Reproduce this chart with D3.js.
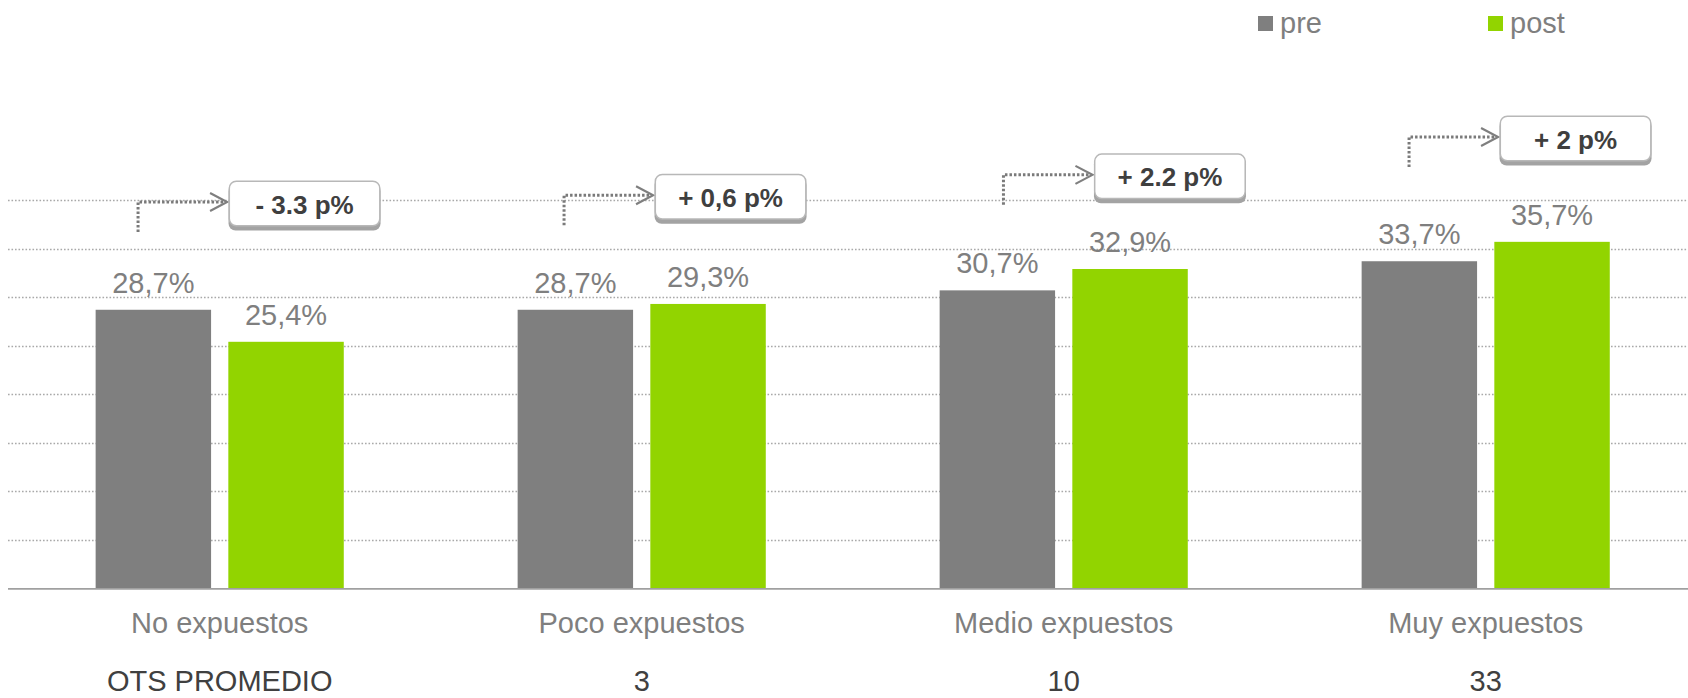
<!DOCTYPE html>
<html>
<head>
<meta charset="utf-8">
<script src="https://cdn.jsdelivr.net/npm/d3@7"></script>
<style>
  html, body { margin: 0; padding: 0; background: #ffffff; }
  svg { display: block; font-family: "Liberation Sans", Arial, sans-serif; }
</style>
</head>
<body>
<svg id="chart" width="1688" height="698"></svg>
<script>
// ---------- DATA ----------
const categories = ["No expuestos", "Poco expuestos", "Medio expuestos", "Muy expuestos"];
const otsLabels = ["OTS PROMEDIO", "3", "10", "33"];
const series = ["pre", "post"];
const preValues = [28.7, 28.7, 30.7, 33.7];
const postValues = [25.4, 29.3, 32.9, 35.7];
const deltaLabels = ["- 3.3 p%", "+ 0,6 p%", "+ 2.2 p%", "+ 2 p%"];
const yTicks = [5, 10, 15, 20, 25, 30, 35, 40];

// ---------- LAYOUT / STYLE ----------
const W = 1688, H = 698;
const colors = { pre: "#7f7f7f", post: "#92d400" };
const calloutDx = [-15.3, -11.3, 6.1, -10.3];      // offset of connector from pre-bar centre
const calloutLevel = [39.8, 40.5, 42.6, 46.5];     // connector height (in axis units)

const svg = d3.select("#chart");

const y = d3.scaleLinear().domain([0, 40]).range([588.3, 200.1]);
const x0 = d3.scaleBand().domain(categories).range([8.7, 1696.7])
  .paddingInner(0.412).paddingOuter(0.206);
const x1 = d3.scaleBand().domain(series).range([0, x0.bandwidth()]).paddingInner(0.13);

const rows = categories.map((c, i) => ({ cat: c, pre: preValues[i], post: postValues[i], ots: otsLabels[i], delta: deltaLabels[i], i }));

// gridlines
svg.append("g").selectAll("line").data(yTicks).join("line")
  .attr("x1", 8).attr("x2", W)
  .attr("y1", d => Math.round(y(d)) + 0.5).attr("y2", d => Math.round(y(d)) + 0.5)
  .attr("stroke", "#a9a9a9").attr("stroke-width", 1.6)
  .attr("stroke-dasharray", "1.6,1.9");

// bars
const groups = svg.append("g").selectAll("g").data(rows).join("g")
  .attr("transform", d => `translate(${x0(d.cat)},0)`);

groups.selectAll("rect").data(d => series.map(s => ({ s, v: d[s] }))).join("rect")
  .attr("x", d => x1(d.s)).attr("width", x1.bandwidth())
  .attr("y", d => y(d.v)).attr("height", d => y(0) - y(d.v))
  .attr("fill", d => colors[d.s]);

groups.selectAll("text.val").data(d => series.map(s => ({ s, v: d[s] }))).join("text")
  .attr("class", "val")
  .attr("x", d => x1(d.s) + x1.bandwidth() / 2)
  .attr("y", d => y(d.v) - 17)
  .attr("text-anchor", "middle")
  .attr("font-size", 29).attr("fill", "#7f7f7f")
  .text(d => d.v.toFixed(1).replace(".", ",") + "%");

// axis line
svg.append("line").attr("x1", 8).attr("x2", W)
  .attr("y1", y(0) + 0.5).attr("y2", y(0) + 0.5)
  .attr("stroke", "#a0a0a0").attr("stroke-width", 1.8);

// category labels
svg.append("g").selectAll("text").data(rows).join("text")
  .attr("x", d => x0(d.cat) + x0.bandwidth() / 2).attr("y", 633)
  .attr("text-anchor", "middle").attr("font-size", 29).attr("fill", "#7f7f7f")
  .text(d => d.cat);

svg.append("g").selectAll("text").data(rows).join("text")
  .attr("x", d => x0(d.cat) + x0.bandwidth() / 2).attr("y", 691)
  .attr("text-anchor", "middle").attr("font-size", 29).attr("fill", "#404040")
  .text(d => d.ots);

// callouts
const co = svg.append("g").selectAll("g").data(rows).join("g");
co.each(function (d) {
  const g = d3.select(this);
  const vx = x0(d.cat) + x1("pre") + x1.bandwidth() / 2 + calloutDx[d.i];
  const ay = y(calloutLevel[d.i]);
  const tip = vx + 89;
  g.append("path")
    .attr("d", `M${vx},${ay + 30} L${vx},${ay} L${tip - 2},${ay}`)
    .attr("fill", "none").attr("stroke", "#7a7a7a").attr("stroke-width", 3)
    .attr("stroke-dasharray", "2.5,2");
  g.append("path")
    .attr("d", `M${tip - 17},${ay - 9} L${tip},${ay} L${tip - 17},${ay + 9}`)
    .attr("fill", "none").attr("stroke", "#7f7f7f").attr("stroke-width", 2.2);
  const bx = tip + 1.5, by = ay - 21.5, bw = 152, bh = 46;
  g.append("rect").attr("x", bx).attr("y", by + 4).attr("width", bw).attr("height", bh)
    .attr("rx", 7).attr("fill", "#a3a3a3");
  g.append("rect").attr("x", bx + 0.75).attr("y", by + 0.75).attr("width", bw - 1.5).attr("height", bh - 1.5)
    .attr("rx", 7).attr("fill", "#ffffff").attr("stroke", "#b8b8b8").attr("stroke-width", 1.5);
  g.append("text").attr("x", bx + bw / 2).attr("y", by + 33)
    .attr("text-anchor", "middle").attr("font-size", 26).attr("font-weight", "bold")
    .attr("fill", "#3f3f3f").text(d.delta);
});

// legend
const legendX = [1258, 1488];
const lg = svg.append("g").selectAll("g").data(series).join("g")
  .attr("transform", (d, i) => `translate(${legendX[i]},16)`);
lg.append("rect").attr("width", 15).attr("height", 15).attr("fill", d => colors[d]);
lg.append("text").attr("x", 22).attr("y", 17).attr("font-size", 29).attr("fill", "#7f7f7f")
  .text(d => d);
</script>
</body>
</html>
